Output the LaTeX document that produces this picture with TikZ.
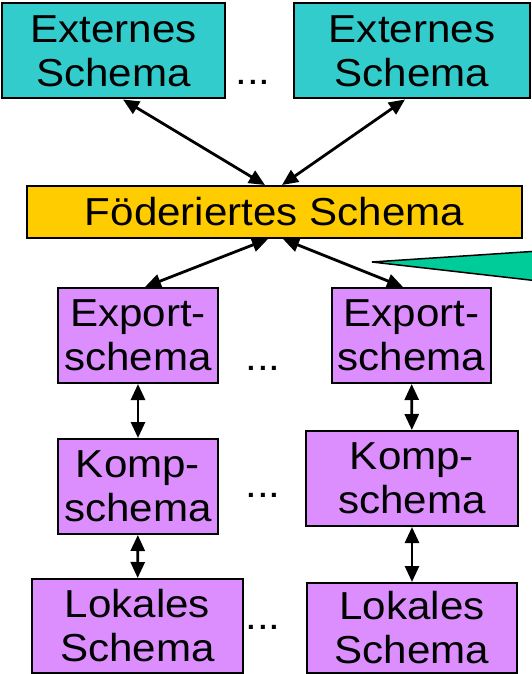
\documentclass[tikz,border=0pt]{standalone}
\usepackage{fontspec}
\setmainfont{Liberation Sans}[FakeStretch=1.08]
\usetikzlibrary{arrows.meta}
\definecolor{extcol}{RGB}{51,204,204}
\definecolor{fedcol}{RGB}{255,204,0}
\definecolor{loccol}{RGB}{220,142,255}
\definecolor{notecol}{RGB}{0,204,153}
\begin{document}
\begin{tikzpicture}[x=1pt,y=-1pt]
  \tikzstyle{every node}=[font=\fontsize{39}{44}\selectfont,align=center,inner sep=0pt]
  \tikzstyle{schema}=[draw,line width=2pt,minimum height=95pt]
  \tikzstyle{link}=[{Triangle[length=16pt,width=14pt]}-{Triangle[length=16pt,width=14pt]},line width=2.8pt]
  \useasboundingbox (0,0) rectangle (532,674);
  \begin{scope}
    \clip (0,0) rectangle (532,674);
    \fill [notecol,draw=black,line width=1.5pt] (372,262) -- (600,247) -- (600,288) -- cycle;
  \end{scope}
  \node [schema,fill=extcol,minimum width=223pt] (ext1) at (113.5,51) {Externes\\Schema};
  \node [schema,fill=extcol,minimum width=236pt] (ext2) at (412,51) {Externes\\Schema};
  \node [schema,fill=fedcol,minimum width=495pt,minimum height=52pt] (fed) at (274.5,212) {Föderiertes Schema};
  \node [schema,fill=loccol,minimum width=160pt] (exp1) at (138,335.5) {Export-\\schema};
  \node [schema,fill=loccol,minimum width=159pt] (exp2) at (411.5,335.5) {Export-\\schema};
  \node [schema,fill=loccol,minimum width=160pt] (komp1) at (138,486.5) {Komp-\\schema};
  \node [schema,fill=loccol,minimum width=212pt] (komp2) at (412,478.5) {Komp-\\schema};
  \node [schema,fill=loccol,minimum width=211pt,minimum height=94pt] (lok1) at (137.5,626) {Lokales\\Schema};
  \node [schema,fill=loccol,minimum width=210pt,minimum height=90pt] (lok2) at (412,628) {Lokales\\Schema};
  \node (dots1) at (253,82) {...};
  \node (dots2) at (263,368) {...};
  \node (dots3) at (263,495) {...};
  \node (dots4) at (263,627) {...};
  \draw [link] ([xshift=9.5pt]ext1.south) -- ([xshift=-9.5pt]fed.north);
  \draw [link] ([xshift=-7pt]ext2.south) -- ([xshift=7.5pt]fed.north);
  \draw [link] ([xshift=-6.5pt]fed.south) -- ([xshift=7pt]exp1.north);
  \draw [link] ([xshift=8.5pt]fed.south) -- ([xshift=-8.5pt]exp2.north);
  \draw [link] (exp1) -- (komp1);
  \draw [link] (komp1) -- (lok1);
  \draw [link] (exp2) -- (komp2);
  \draw [link] (komp2) -- (lok2);
\end{tikzpicture}
\end{document}
